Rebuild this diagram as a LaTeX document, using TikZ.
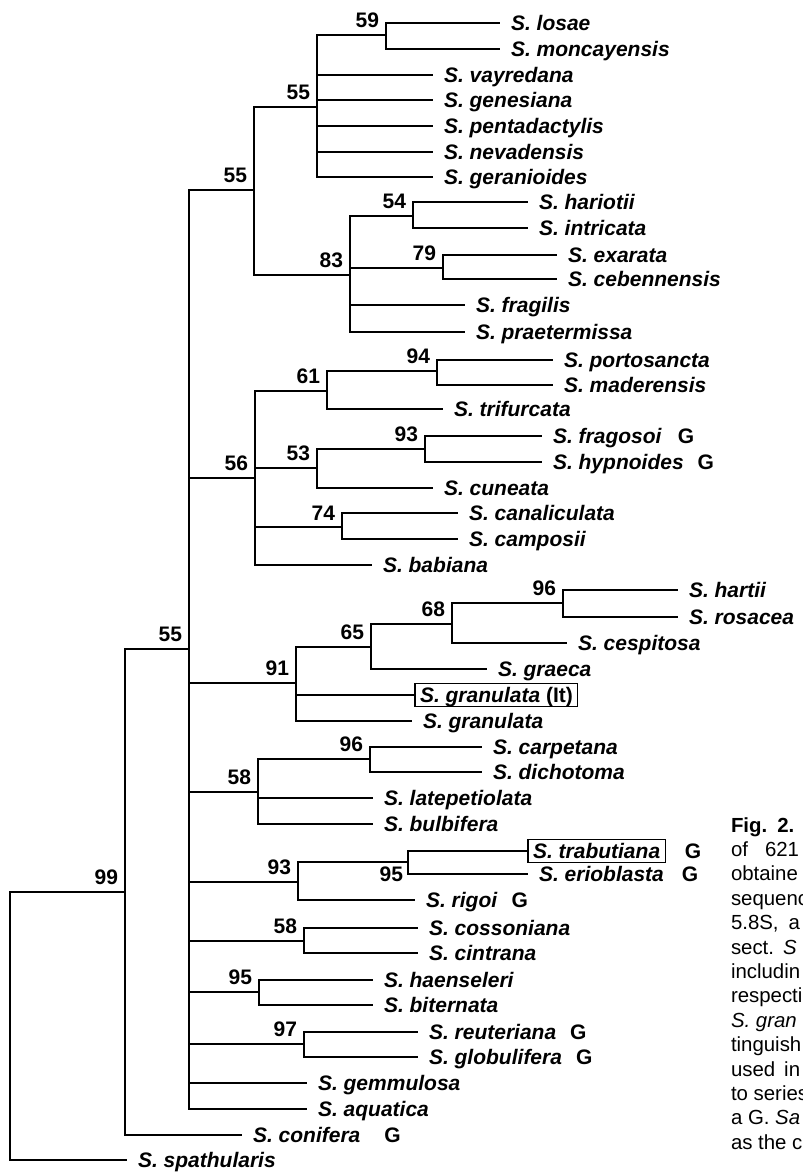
\documentclass[tikz,border=0pt]{standalone}
\usepackage{fontspec}
\setmainfont{Liberation Sans}
\newcommand{\gtag}[1][7pt]{\hspace{#1}\textup{G}}

\begin{document}
\begin{tikzpicture}
  [x=0.5pt,y=-0.5pt,line width=1pt,
   every node/.style={font=\fontsize{10.5}{12}\selectfont\bfseries,outer sep=0pt},
   leaf/.style={anchor=west,font=\fontsize{10.5}{12}\selectfont\bfseries\itshape,
     inner xsep=5.5pt,inner ysep=0pt,text height=9.5pt,text depth=2pt},
   boxleaf/.style={leaf,draw,line width=0.6pt,inner xsep=2.5pt},
   boot/.style={anchor=south east,inner sep=0pt,xshift=-3.5pt,yshift=3.5pt},
   bootlow/.style={anchor=north east,inner sep=0pt,xshift=-2.5pt,yshift=-2.5pt},
   capline/.style={anchor=base west,inner sep=0pt,font=\fontsize{10.2}{12}\selectfont}]
    \useasboundingbox (0,0) rectangle (803,1173);
    \clip (0,0) rectangle (803,1173);

    % branching points
    \coordinate (root) at (10,1026);
    \coordinate (n99)  at (125,892);
    \coordinate (n55a) at (189,649);
    \coordinate (n55b) at (254,190);
    \coordinate (n55c) at (317,107);
    \coordinate (n59)  at (386,35);
    \coordinate (n83)  at (350,275);
    \coordinate (n54)  at (413,216);
    \coordinate (n79)  at (443,268);
    \coordinate (n56)  at (255,478);
    \coordinate (n61)  at (327,391);
    \coordinate (n94)  at (437,371);
    \coordinate (n53)  at (317,468);
    \coordinate (n93a) at (425,449);
    \coordinate (n74)  at (342,527);
    \coordinate (n91)  at (296,683);
    \coordinate (n65)  at (371,647);
    \coordinate (n68)  at (452,624);
    \coordinate (n96a) at (563,603);
    \coordinate (n58a) at (258,792);
    \coordinate (n96b) at (370,759);
    \coordinate (n93b) at (298,882);
    \coordinate (n95a) at (408,862);
    \coordinate (n58b) at (304,941);
    \coordinate (n95b) at (259,992);
    \coordinate (n97)  at (304,1044);

    % taxa
    \node (losae)         [leaf] at (500,23)  {S. losae};
    \node (moncayensis)   [leaf] at (500,49)  {S. moncayensis};
    \node (vayredana)     [leaf] at (433,75)  {S. vayredana};
    \node (genesiana)     [leaf] at (433,100) {S. genesiana};
    \node (pentadactylis) [leaf] at (433,126) {S. pentadactylis};
    \node (nevadensis)    [leaf] at (433,152) {S. nevadensis};
    \node (geranioides)   [leaf] at (433,177) {S. geranioides};
    \node (hariotii)      [leaf] at (528,202) {S. hariotii};
    \node (intricata)     [leaf] at (528,228) {S. intricata};
    \node (exarata)       [leaf] at (557,255) {S. exarata};
    \node (cebennensis)   [leaf] at (557,279) {S. cebennensis};
    \node (fragilis)      [leaf] at (465,305) {S. fragilis};
    \node (praetermissa)  [leaf] at (465,332) {S. praetermissa};
    \node (portosancta)   [leaf] at (553,360) {S. portosancta};
    \node (maderensis)    [leaf] at (553,385) {S. maderensis};
    \node (trifurcata)    [leaf] at (443,409) {S. trifurcata};
    \node (fragosoi)      [leaf] at (542,436) {S. fragosoi\gtag[8pt]};
    \node (hypnoides)     [leaf] at (542,462) {S. hypnoides\gtag};
    \node (cuneata)       [leaf] at (433,488) {S. cuneata};
    \node (canaliculata)  [leaf] at (458,513) {S. canaliculata};
    \node (camposii)      [leaf] at (458,539) {S. camposii};
    \node (babiana)       [leaf] at (372,565) {S. babiana};
    \node (hartii)        [leaf] at (678,590) {S. hartii};
    \node (rosacea)       [leaf] at (678,617) {S. rosacea};
    \node (cespitosa)     [leaf] at (567,643) {S. cespitosa};
    \node (graeca)        [leaf] at (487,669) {S. graeca};
    \node (granulataIt)   [boxleaf] at (415,695) {S. granulata \textup{(It)}};
    \node (granulata)     [leaf] at (412,721) {S. granulata};
    \node (carpetana)     [leaf] at (482,747) {S. carpetana};
    \node (dichotoma)     [leaf] at (482,772) {S. dichotoma};
    \node (latepetiolata) [leaf] at (373,798) {S. latepetiolata};
    \node (bulbifera)     [leaf] at (373,824) {S. bulbifera};
    \node (trabutiana)    [boxleaf,label={[label distance=6.5pt]east:G}] at (528,851) {S. trabutiana};
    \node (erioblasta)    [leaf] at (528,874) {S. erioblasta\gtag[9pt]};
    \node (rigoi)         [leaf] at (415,900) {S. rigoi\gtag};
    \node (cossoniana)    [leaf] at (418,928) {S. cossoniana};
    \node (cintrana)      [leaf] at (418,953) {S. cintrana};
    \node (haenseleri)    [leaf] at (373,980) {S. haenseleri};
    \node (biternata)     [leaf] at (373,1005) {S. biternata};
    \node (reuteriana)    [leaf] at (418,1032) {S. reuteriana\gtag};
    \node (globulifera)   [leaf] at (418,1057) {S. globulifera\gtag};
    \node (gemmulosa)     [leaf] at (307,1083) {S. gemmulosa};
    \node (aquatica)      [leaf] at (307,1109) {S. aquatica};
    \node (conifera)      [leaf] at (242,1135) {S. conifera\gtag[12pt]};
    \node (spathularis)   [leaf] at (127,1160) {S. spathularis};

    \foreach \from/\to in {root/n99,root/spathularis,n99/n55a,n99/conifera,
        n55a/n55b,n55a/n56,n55a/n91,n55a/n58a,n55a/n93b,n55a/n58b,n55a/n95b,
        n55a/n97,n55a/gemmulosa,n55a/aquatica,
        n55b/n55c,n55b/n83,n55c/n59,n55c/vayredana,n55c/genesiana,
        n55c/pentadactylis,n55c/nevadensis,n55c/geranioides,n59/losae,n59/moncayensis,
        n83/n54,n83/n79,n83/fragilis,n83/praetermissa,n54/hariotii,n54/intricata,
        n79/exarata,n79/cebennensis,
        n56/n61,n56/n53,n56/n74,n56/babiana,n61/n94,n61/trifurcata,
        n94/portosancta,n94/maderensis,n53/n93a,n53/cuneata,n93a/fragosoi,
        n93a/hypnoides,n74/canaliculata,n74/camposii,
        n91/n65,n91/granulataIt,n91/granulata,n65/n68,n65/graeca,n68/n96a,
        n68/cespitosa,n96a/hartii,n96a/rosacea,
        n58a/n96b,n58a/latepetiolata,n58a/bulbifera,n96b/carpetana,n96b/dichotoma,
        n93b/n95a,n93b/rigoi,n95a/trabutiana,n95a/erioblasta,
        n58b/cossoniana,n58b/cintrana,n95b/haenseleri,n95b/biternata,
        n97/reuteriana,n97/globulifera}
      \draw (\from) |- (\to);

    % bootstrap values
    \foreach \at/\val in {n99/99,n55a/55,n55b/55,n55c/55,n59/59,n83/83,n54/54,
        n79/79,n56/56,n61/61,n94/94,n53/53,n93a/93,n74/74,n91/91,n65/65,n68/68,
        n96a/96,n58a/58,n96b/96,n93b/93,n58b/58,n95b/95,n97/97}
      \node (bs\at) [boot] at (\at) {\val};
    \node (bsn95a) [bootlow] at (n95a) {95};

    % caption, cut at the right edge
    \foreach \txt [count=\k from 0] in {{\bfseries Fig.\hspace{5pt}2.},
        {of\hspace{8.5pt}621},obtaine,sequenc,{5.8S,\hspace{5pt}a},
        {sect.\hspace{4.5pt}\textit{S}},includin,respecti,{\textit{S. gran}},
        tinguish,{used\hspace{4.5pt}in},{to series},{a G. \textit{Sa}},{as the c}}
      \node (cap\k) [capline] at (731,832+24.4*\k) {\txt};
  \end{tikzpicture}
\end{document}
